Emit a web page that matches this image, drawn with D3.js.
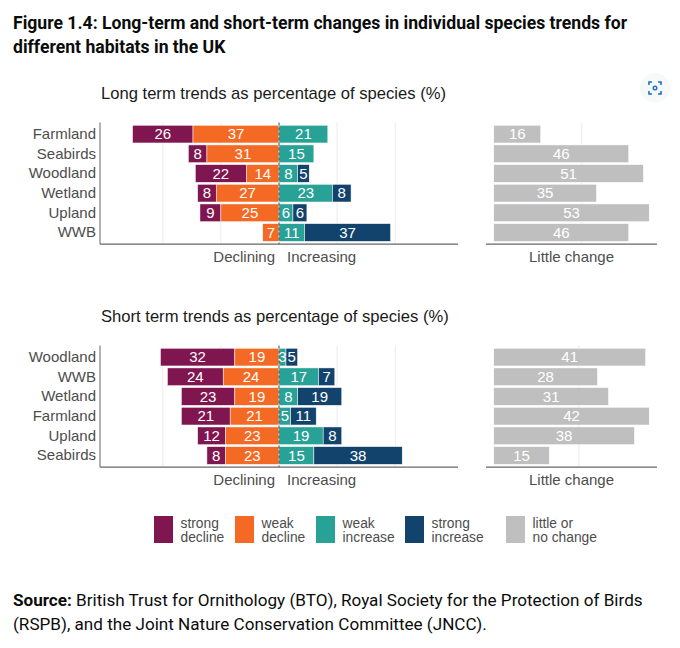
<!DOCTYPE html>
<html>
<head>
<meta charset="utf-8">
<script src="https://cdn.jsdelivr.net/npm/d3@7"></script>
<style>
  body { margin: 0; background: #fff; }
  svg { display: block; }
</style>
</head>
<body>
<div id="chart"></div>
<script>
const width = 680, height = 648;

// series order, left to right
const series = ['strongDecline', 'weakDecline', 'weakIncrease', 'strongIncrease'];
const seriesColors = ['#801650', '#f46a25', '#28a197', '#12436d'];
const changeColor = '#bfbfbf';

const legendLabels = [
    ['strong', 'decline'], ['weak', 'decline'], ['weak', 'increase'],
    ['strong', 'increase'], ['little or', 'no change']
];

// long term
const longCategories = ['Farmland', 'Seabirds', 'Woodland', 'Wetland', 'Upland', 'WWB'];
const longStrongDecline = [26, 8, 22, 8, 9, 0];
const longWeakDecline = [37, 31, 14, 27, 25, 7];
const longWeakIncrease = [21, 15, 8, 23, 6, 11];
const longStrongIncrease = [0, 0, 5, 8, 6, 37];
const longLittleChange = [16, 46, 51, 35, 53, 46];

// short term
const shortCategories = ['Woodland', 'WWB', 'Wetland', 'Farmland', 'Upland', 'Seabirds'];
const shortStrongDecline = [32, 24, 23, 21, 12, 8];
const shortWeakDecline = [19, 24, 19, 21, 23, 23];
const shortWeakIncrease = [3, 17, 8, 5, 19, 15];
const shortStrongIncrease = [5, 7, 19, 11, 8, 38];
const shortLittleChange = [41, 28, 31, 42, 38, 15];

const trendTicks = [-50, -25, 25, 50];

const chartFont = 'Liberation Sans, Arial, sans-serif';
const pageFont = 'Roboto, Noto Sans, sans-serif';

const svg = d3.select('#chart')
    .append('svg')
    .attr('width', width)
    .attr('height', height);

svg.append('rect').attr('width', width).attr('height', height).attr('fill', '#fff');

// heading
const heading = svg.append('text')
    .attr('font-family', pageFont)
    .attr('font-weight', 700)
    .attr('font-size', 17.6)
    .attr('fill', '#0b0c0c');
heading.append('tspan').attr('x', 13).attr('y', 29)
    .text('Figure 1.4: Long-term and short-term changes in individual species trends for');
heading.append('tspan').attr('x', 13).attr('y', 53)
    .text('different habitats in the UK');

// little icon top right
const icon = svg.append('g').attr('transform', 'translate(655,88)');
icon.append('circle').attr('r', 15).attr('fill', '#f7f8fa');
icon.append('path')
    .attr('d', 'M-6,-3V-6H-3M3,-6H6V-3M6,3V6H3M-3,6H-6V3')
    .attr('fill', 'none').attr('stroke', '#1d70b8').attr('stroke-width', 1.6);
icon.append('circle').attr('r', 1.8).attr('fill', 'none')
    .attr('stroke', '#1d70b8').attr('stroke-width', 1.4);

function drawPanel(top, title, categories, values, little, gridValue) {
    const g = svg.append('g');
    const y0 = top, y1 = top + 121.6;

    const x = d3.scaleLinear().domain([-77, 77]).range([100, 458]);
    const maxLittle = d3.max(little);
    const xr = d3.scaleLinear()
        .domain([-maxLittle * 0.05, maxLittle * 1.05])
        .range([486, 657]);
    const y = d3.scaleBand().domain(categories)
        .range([y0, y1]).paddingInner(0.1).paddingOuter(0.14);

    g.append('text')
        .attr('x', 101).attr('y', top - 24)
        .attr('font-family', chartFont).attr('font-size', 16.6)
        .attr('fill', '#1a1a1a')
        .text(title);

    // gridlines
    g.selectAll('line.grid').data(trendTicks).join('line')
        .attr('x1', d => x(d)).attr('x2', d => x(d))
        .attr('y1', y0).attr('y2', y1)
        .attr('stroke', '#ebebeb').attr('stroke-width', 1);
    g.append('line')
        .attr('x1', xr(gridValue)).attr('x2', xr(gridValue))
        .attr('y1', y0).attr('y2', y1)
        .attr('stroke', '#ebebeb').attr('stroke-width', 1);

    // stacked diverging segments
    const rows = categories.map((c, i) => {
        const sd = values[0][i], wd = values[1][i], wi = values[2][i], si = values[3][i];
        return [
            {cat: c, k: 0, v: sd, a: -(sd + wd), b: -wd},
            {cat: c, k: 1, v: wd, a: -wd, b: 0},
            {cat: c, k: 2, v: wi, a: 0, b: wi},
            {cat: c, k: 3, v: si, a: wi, b: wi + si}
        ];
    }).flat().filter(d => d.v > 0);

    g.selectAll('rect.seg').data(rows).join('rect')
        .attr('x', d => x(d.a))
        .attr('width', d => x(d.b) - x(d.a))
        .attr('y', d => y(d.cat))
        .attr('height', y.bandwidth())
        .attr('fill', d => seriesColors[d.k])
        .attr('stroke', '#fff').attr('stroke-width', 0.5);

    g.selectAll('text.seg').data(rows).join('text')
        .attr('x', d => (x(d.a) + x(d.b)) / 2)
        .attr('y', d => y(d.cat) + y.bandwidth() / 2 + 5.3)
        .attr('text-anchor', 'middle')
        .attr('font-family', chartFont).attr('font-size', 15)
        .attr('fill', '#fff')
        .text(d => d.v);

    // little change bars
    g.selectAll('rect.lc').data(categories).join('rect')
        .attr('x', xr(0))
        .attr('width', (d, i) => xr(little[i]) - xr(0))
        .attr('y', d => y(d))
        .attr('height', y.bandwidth())
        .attr('fill', changeColor)
        .attr('stroke', '#fff').attr('stroke-width', 0.5);
    g.selectAll('text.lc').data(categories).join('text')
        .attr('x', (d, i) => (xr(0) + xr(little[i])) / 2)
        .attr('y', d => y(d) + y.bandwidth() / 2 + 5.3)
        .attr('text-anchor', 'middle')
        .attr('font-family', chartFont).attr('font-size', 15)
        .attr('fill', '#fff')
        .text((d, i) => little[i]);

    // zero line
    g.append('line')
        .attr('x1', x(0)).attr('x2', x(0))
        .attr('y1', y0).attr('y2', y1)
        .attr('stroke', '#444').attr('stroke-width', 1)
        .attr('stroke-dasharray', '3,2');

    // category axis
    const yAxis = g.append('g')
        .attr('transform', `translate(${x.range()[0]},0)`)
        .call(d3.axisLeft(y).tickSize(0).tickPadding(4));
    yAxis.select('.domain').attr('stroke', '#666').attr('d', `M0,${y0}V${y1}`);
    yAxis.selectAll('text')
        .attr('font-family', chartFont).attr('font-size', 15)
        .attr('fill', '#4d4d4d');

    g.append('line')
        .attr('x1', x.range()[0]).attr('x2', x.range()[1])
        .attr('y1', y1).attr('y2', y1)
        .attr('stroke', '#666').attr('stroke-width', 1.2);
    g.append('line')
        .attr('x1', xr.range()[0]).attr('x2', xr.range()[1])
        .attr('y1', y1).attr('y2', y1)
        .attr('stroke', '#666').attr('stroke-width', 1.2);

    const lab = g.append('g')
        .attr('font-family', chartFont).attr('font-size', 15)
        .attr('fill', '#4d4d4d');
    lab.append('text').attr('x', x(0) - 4).attr('y', y1 + 18)
        .attr('text-anchor', 'end').text('Declining');
    lab.append('text').attr('x', x(0) + 8).attr('y', y1 + 18)
        .text('Increasing');
    lab.append('text').attr('x', (xr.range()[0] + xr.range()[1]) / 2).attr('y', y1 + 18)
        .attr('text-anchor', 'middle').text('Little change');
}

drawPanel(122.5, 'Long term trends as percentage of species (%)', longCategories,
    [longStrongDecline, longWeakDecline, longWeakIncrease, longStrongIncrease],
    longLittleChange, 30);
drawPanel(345.5, 'Short term trends as percentage of species (%)', shortCategories,
    [shortStrongDecline, shortWeakDecline, shortWeakIncrease, shortStrongIncrease],
    shortLittleChange, 23);

// legend
const legendX = [154, 235, 316, 405, 506];
const legendColors = seriesColors.concat([changeColor]);
const legend = svg.append('g');
legendLabels.forEach((lbl, i) => {
    legend.append('rect')
        .attr('x', legendX[i]).attr('y', 516)
        .attr('width', 19).attr('height', 27)
        .attr('fill', legendColors[i]);
    const t = legend.append('text')
        .attr('font-family', chartFont).attr('font-size', 13.8)
        .attr('fill', '#4d4d4d');
    t.append('tspan').attr('x', legendX[i] + 26.5).attr('y', 527.5).text(lbl[0]);
    t.append('tspan').attr('x', legendX[i] + 26.5).attr('y', 541.5).text(lbl[1]);
});

// source
const source = svg.append('text')
    .attr('font-family', pageFont).attr('font-size', 17.1)
    .attr('fill', '#0b0c0c');
const s1 = source.append('tspan').attr('x', 13).attr('y', 606);
s1.append('tspan').attr('font-weight', 700).text('Source:');
s1.append('tspan').text(' British Trust for Ornithology (BTO), Royal Society for the Protection of Birds');
source.append('tspan').attr('x', 13).attr('y', 630)
    .text('(RSPB), and the Joint Nature Conservation Committee (JNCC).');
</script>
</body>
</html>
